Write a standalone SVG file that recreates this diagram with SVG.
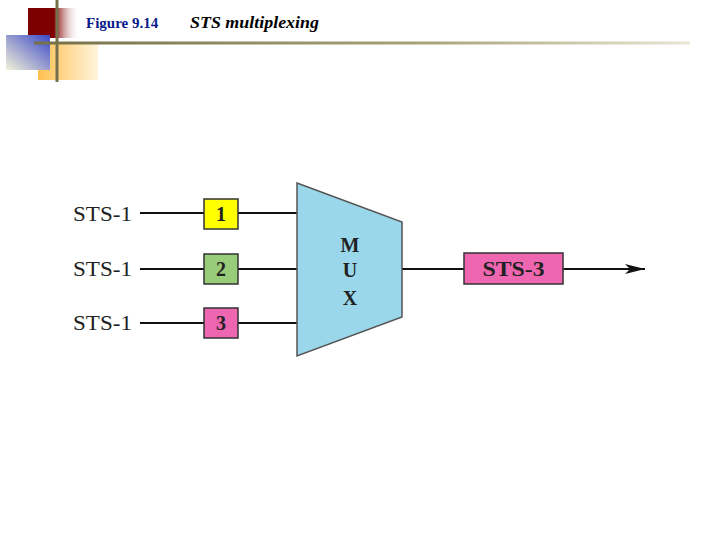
<svg xmlns="http://www.w3.org/2000/svg" width="720" height="540" viewBox="0 0 720 540">
<defs>
<linearGradient id="gRed" x1="0" y1="0" x2="1" y2="0"><stop offset="0" stop-color="#7a0000"/><stop offset="0.5" stop-color="#800000"/><stop offset="1" stop-color="#ffffff" stop-opacity="0"/></linearGradient>
<linearGradient id="gBlue" x1="0" y1="1" x2="1" y2="0"><stop offset="0" stop-color="#f4f2d8"/><stop offset="1" stop-color="#3a48c8"/></linearGradient>
<linearGradient id="gOrange" x1="0" y1="0" x2="1" y2="0"><stop offset="0" stop-color="#ffc050"/><stop offset="1" stop-color="#fff4dc"/></linearGradient>
<linearGradient id="gLine" x1="0" y1="0" x2="1" y2="0"><stop offset="0" stop-color="#76704a"/><stop offset="0.6" stop-color="#a8a47a"/><stop offset="1" stop-color="#e8e6d4"/></linearGradient>
<marker id="arrow" markerWidth="20" markerHeight="12" refX="20" refY="6" orient="auto" markerUnits="userSpaceOnUse"><path d="M0,1 L20,6 L0,11 L5,6 Z" fill="#111"/></marker>
</defs>
<style>
.lbl{font-family:"Liberation Serif",serif;font-size:21px;fill:#222}
.num{font-family:"Liberation Serif",serif;font-size:20px;font-weight:bold;fill:#222;text-anchor:middle}
.box{stroke:#333;stroke-width:1.5}
.wire{stroke:#111;stroke-width:1.8;fill:none}
</style>
<rect width="720" height="540" fill="#fff"/>
<g id="decoration">
<rect x="28" y="8" width="52" height="30" fill="url(#gRed)"/>
<rect x="38" y="42" width="60" height="38" fill="url(#gOrange)"/>
<rect x="6" y="35" width="44" height="35" fill="url(#gBlue)"/>
<rect x="34" y="41.5" width="656" height="3" fill="url(#gLine)"/>
<rect x="55.5" y="0" width="3" height="82" fill="#76704a"/>
</g>
<g id="title">
<text x="86" y="28" font-family="Liberation Serif,serif" font-size="15" font-weight="bold" fill="#0a1a8a">Figure 9.14</text>
<text x="190" y="28" font-family="Liberation Serif,serif" font-size="17" font-weight="bold" font-style="italic" fill="#000" textLength="129" lengthAdjust="spacingAndGlyphs">STS multiplexing</text>
</g>
<g id="connectors">
<line class="wire" x1="140" y1="213" x2="298" y2="213"/>
<line class="wire" x1="140" y1="269" x2="298" y2="269"/>
<line class="wire" x1="140" y1="323" x2="298" y2="323"/>
<line class="wire" x1="402" y1="269" x2="645" y2="269" marker-end="url(#arrow)"/>
</g>
<g id="in1"><text class="lbl" x="73" y="221" textLength="59" lengthAdjust="spacingAndGlyphs">STS-1</text></g>
<g id="in2"><text class="lbl" x="73" y="276" textLength="59" lengthAdjust="spacingAndGlyphs">STS-1</text></g>
<g id="in3"><text class="lbl" x="73" y="330" textLength="59" lengthAdjust="spacingAndGlyphs">STS-1</text></g>
<g id="frame1"><rect class="box" x="204" y="199" width="34" height="30" fill="#ffff00"/><text class="num" x="221" y="221">1</text></g>
<g id="frame2"><rect class="box" x="204" y="254" width="34" height="30" fill="#99cc78"/><text class="num" x="221" y="276">2</text></g>
<g id="frame3"><rect class="box" x="204" y="308" width="34" height="30" fill="#ef66b0"/><text class="num" x="221" y="330">3</text></g>
<g id="mux">
<polygon points="297,183 402,222 402,317 297,356" fill="#9ad7ea" stroke="#555" stroke-width="1.5"/>
<text class="num" x="350" y="252" font-size="22">M</text>
<text class="num" x="350" y="277" font-size="22">U</text>
<text class="num" x="350" y="305" font-size="22">X</text>
</g>
<g id="out"><rect class="box" x="464" y="253" width="99" height="31" fill="#ef66b0"/><text class="num" x="513.5" y="276" textLength="62" lengthAdjust="spacingAndGlyphs">STS-3</text></g>
</svg>
